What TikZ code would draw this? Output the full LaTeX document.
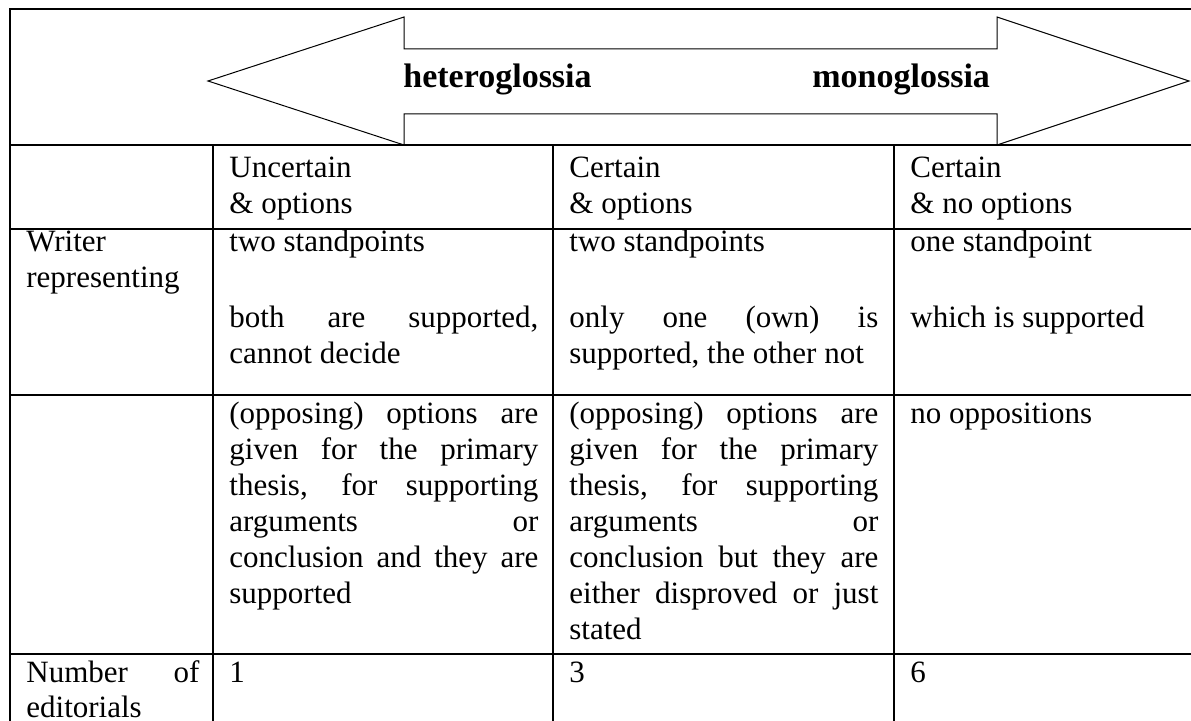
\documentclass[tikz,border=0pt]{standalone}
\usepackage{fontspec}
\setmainfont{Liberation Serif}
\newcommand{\jline}[2]{\makebox[#1][s]{#2}}
\begin{document}
\begin{tikzpicture}[x=0.5pt,y=-0.5pt,
  txt/.style={anchor=base west, inner sep=0pt, font=\fontsize{15.5}{18}\selectfont},
  hdr/.style={anchor=base west, inner sep=0pt, font=\fontsize{17}{20}\selectfont\bfseries},
  gridline/.style={line width=0.75pt, line cap=rect},
  bigarrow/.style={line width=0.5pt, line join=miter}]
\useasboundingbox (0,0) rectangle (1191,721);
\fill[white] (0,0) rectangle (1191,721);
\begin{scope}
\clip (0,0) rectangle (1191,721);
% table frame and rules
\draw[gridline] (1191,9) -- (10,9) -- (10,721);
\foreach \yy in {145,229,395,654} \draw[gridline] (10,\yy) -- (1191,\yy);
\foreach \xx in {213,553,894} \draw[gridline] (\xx,145) -- (\xx,721);
% double arrow
\draw[bigarrow] (208,81) -- (404,17) -- (404,49) -- (997,49) -- (997,17) -- (1189,81)
  -- (997,145) -- (997,114) -- (404,114) -- (404,145) -- cycle;
\end{scope}
\node[hdr] (het) at (403,88) {heteroglossia};
\node[hdr] (mono) at (812,88) {monoglossia};
% header row
\node[txt] (h1a) at (229,178) {Uncertain};
\node[txt] (h1b) at (229,214) {\& options};
\node[txt] (h2a) at (569,178) {Certain};
\node[txt] (h2b) at (569,214) {\& options};
\node[txt] (h3a) at (910,178) {Certain};
\node[txt] (h3b) at (910,214) {\& no options};
% row: writer representing
\node[txt] (r0a) at (26,252) {Writer};
\node[txt] (r0b) at (26,288) {representing};
\node[txt] (r1a) at (229,252) {two standpoints};
\node[txt] (r1b) at (229,328) {\jline{154.5pt}{both are supported,}};
\node[txt] (r1c) at (229,364) {cannot decide};
\node[txt] (r2a) at (569,252) {two standpoints};
\node[txt] (r2b) at (569,328) {\jline{154.5pt}{only one (own) is}};
\node[txt] (r2c) at (569,364) {supported, the other not};
\node[txt] (r3a) at (910,252) {one standpoint};
\node[txt] (r3b) at (910,328) {which is supported};
% row: options
\node[txt] (o1a) at (229,424) {\jline{154.5pt}{(opposing) options are}};
\node[txt] (o1b) at (229,460) {\jline{154.5pt}{given for the primary}};
\node[txt] (o1c) at (229,496) {\jline{154.5pt}{thesis, for supporting}};
\node[txt] (o1d) at (229,532) {\jline{154.5pt}{arguments or}};
\node[txt] (o1e) at (229,568) {\jline{154.5pt}{conclusion and they are}};
\node[txt] (o1f) at (229,604) {supported};
\node[txt] (o2a) at (569,424) {\jline{154.5pt}{(opposing) options are}};
\node[txt] (o2b) at (569,460) {\jline{154.5pt}{given for the primary}};
\node[txt] (o2c) at (569,496) {\jline{154.5pt}{thesis, for supporting}};
\node[txt] (o2d) at (569,532) {\jline{154.5pt}{arguments or}};
\node[txt] (o2e) at (569,568) {\jline{154.5pt}{conclusion but they are}};
\node[txt] (o2f) at (569,604) {\jline{154.5pt}{either disproved or just}};
\node[txt] (o2g) at (569,640) {stated};
\node[txt] (o3a) at (910,424) {no oppositions};
% row: number of editorials
\node[txt] (n0a) at (26,683) {\jline{86.5pt}{Number of}};
\node[txt] (n0b) at (26,718) {editorials};
\node[txt] (n1) at (229,683) {1};
\node[txt] (n2) at (569,683) {3};
\node[txt] (n3) at (910,683) {6};
\end{tikzpicture}
\end{document}
